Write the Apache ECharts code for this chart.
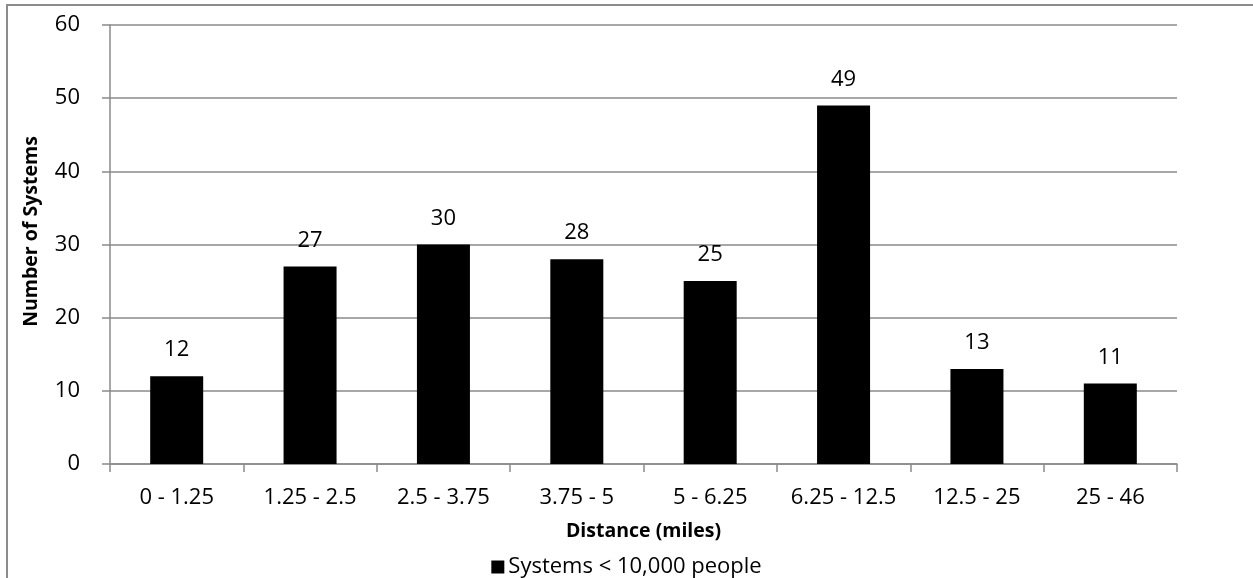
<!DOCTYPE html>
<html>
<head>
<meta charset="utf-8">
<script src="https://cdn.jsdelivr.net/npm/echarts@6/dist/echarts.min.js"></script>
<style>
  html, body { margin: 0; padding: 0; background: #ffffff; }
  #chart { width: 1253px; height: 578px; }
</style>
</head>
<body>
<div id="chart"></div>
<script>
// Distance bands (miles) and count of small water systems in each band
const categories = ['0 - 1.25', '1.25 - 2.5', '2.5 - 3.75', '3.75 - 5', '5 - 6.25', '6.25 - 12.5', '12.5 - 25', '25 - 46'];
const systemCounts = [12, 27, 30, 28, 25, 49, 13, 11];
const seriesName = 'Systems < 10,000 people';
const yTicks = { min: 0, max: 60, interval: 10 };

const FONT = '"Open Sans", "Noto Sans", sans-serif';
const AXIS_GRAY = '#8a8a8a';
const TEXT_SIZE = 22;
const TITLE_SIZE = 19.5;

const chart = echarts.init(document.getElementById('chart'), null, { renderer: 'canvas' });

chart.setOption({
  animation: false,
  backgroundColor: '#ffffff',
  textStyle: { fontFamily: FONT, color: '#000000' },
  graphic: [{
    // outer chart-area frame (runs off the right and bottom edges)
    type: 'rect',
    shape: { x: 7, y: 5, width: 1400, height: 800 },
    style: { fill: 'none', stroke: '#8c8c8c', lineWidth: 2 },
    silent: true,
    z: -10
  }],
  grid: { left: 110, right: 76, top: 25, bottom: 114, containLabel: false },
  legend: {
    data: [seriesName],
    top: 551,
    left: 'center',
    icon: 'rect',
    itemWidth: 13,
    itemHeight: 13,
    itemGap: 6,
    textStyle: { fontFamily: FONT, fontSize: TEXT_SIZE, color: '#000000', padding: [0, 0, 0, -1] }
  },
  xAxis: {
    type: 'category',
    data: categories,
    name: 'Distance (miles)',
    nameLocation: 'middle',
    nameGap: 57,
    nameTextStyle: { fontFamily: FONT, fontSize: TITLE_SIZE, fontWeight: 'bold', color: '#000000' },
    axisLine: { show: true, lineStyle: { color: AXIS_GRAY, width: 1.5 } },
    axisTick: { show: true, alignWithLabel: false, length: 8, lineStyle: { color: AXIS_GRAY, width: 1.5 } },
    axisLabel: { fontFamily: FONT, fontSize: TEXT_SIZE, color: '#000000', margin: 23, interval: 0 },
    splitLine: { show: false }
  },
  yAxis: {
    type: 'value',
    min: yTicks.min,
    max: yTicks.max,
    interval: yTicks.interval,
    name: 'Number of Systems',
    nameLocation: 'middle',
    nameGap: 69,
    nameTextStyle: {
      fontFamily: FONT, fontSize: TITLE_SIZE, fontWeight: 'bold', color: '#000000',
      padding: [0, 0, 0, 26]
    },
    axisLine: { show: true, lineStyle: { color: AXIS_GRAY, width: 1.5 } },
    axisTick: { show: true, length: 8, lineStyle: { color: AXIS_GRAY, width: 1.5 } },
    axisLabel: { fontFamily: FONT, fontSize: TEXT_SIZE, color: '#000000', margin: 30 },
    splitLine: { show: true, lineStyle: { color: AXIS_GRAY, width: 1.5 } }
  },
  series: [{
    name: seriesName,
    type: 'bar',
    data: systemCounts,
    barWidth: 53,
    itemStyle: { color: '#000000' },
    label: {
      show: true,
      position: 'top',
      distance: 15,
      fontFamily: FONT,
      fontSize: TEXT_SIZE,
      color: '#000000'
    }
  }]
});
</script>
</body>
</html>
